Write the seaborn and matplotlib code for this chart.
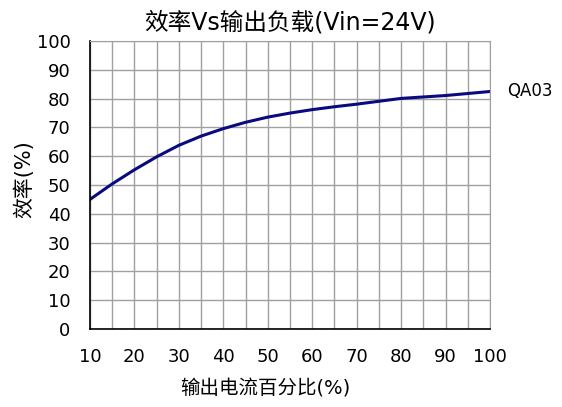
import matplotlib
matplotlib.use("Agg")
import matplotlib.pyplot as plt
import seaborn as sns
import pandas as pd

# data
load_pct = [10, 15, 20, 25, 30, 35, 40, 45, 50, 55, 60, 65, 70, 75, 80, 85, 90, 95, 100]
efficiency = [45, 50.4, 55.3, 59.8, 63.8, 67.0, 69.6, 71.8, 73.6, 75.0, 76.2, 77.2,
              78.1, 79.1, 80.1, 80.6, 81.1, 81.8, 82.5]
series_name = "QA03"

df = pd.DataFrame({"load": load_pct, "eff": efficiency})

sns.set_style("white")
plt.rcParams["font.family"] = ["DejaVu Sans", "Noto Sans CJK SC"]
plt.rcParams["text.color"] = "black"
plt.rcParams["axes.labelcolor"] = "black"
plt.rcParams["xtick.color"] = "black"
plt.rcParams["ytick.color"] = "black"

fig = plt.figure(figsize=(5.62, 4.07), dpi=100)
ax = fig.add_axes([0.160, 0.1916, 0.712, 0.7074])

sns.lineplot(data=df, x="load", y="eff", color="#0a0a80", linewidth=2.2, ax=ax)

ax.set_xlim(10, 100)
ax.set_ylim(0, 100)
ax.set_xticks(range(10, 101, 10))
ax.set_yticks(range(0, 101, 10))
ax.set_xticks(range(15, 100, 10), minor=True)
ax.grid(True, which="both", color="#a0a0a0", linewidth=1.0)
ax.set_axisbelow(True)

for side in ["top", "right"]:
    ax.spines[side].set_color("#a0a0a0")
for side in ["left", "bottom"]:
    ax.spines[side].set_color("black")
    ax.spines[side].set_linewidth(1.2)

ax.tick_params(axis="y", which="major", direction="in", length=4, width=1.2,
               color="black", labelsize=13, pad=14)
ax.tick_params(axis="x", which="major", direction="in", length=0,
               labelsize=13, pad=14)
ax.tick_params(axis="x", which="minor", length=0)

ax.set_xlabel("输出电流百分比(%)", fontsize=14)
ax.xaxis.set_label_coords(0.4375, -0.175)
ax.set_ylabel("效率(%)", fontsize=15)
ax.yaxis.set_label_coords(-0.14, 0.52)
ax.set_title("效率Vs输出负载(Vin=24V)", fontsize=17, pad=8)

ax.annotate(series_name, xy=(load_pct[-1], efficiency[-1]), xytext=(12, 0),
            textcoords="offset points", va="center", ha="left", fontsize=12,
            annotation_clip=False)

fig.savefig("out.png", dpi=100)
